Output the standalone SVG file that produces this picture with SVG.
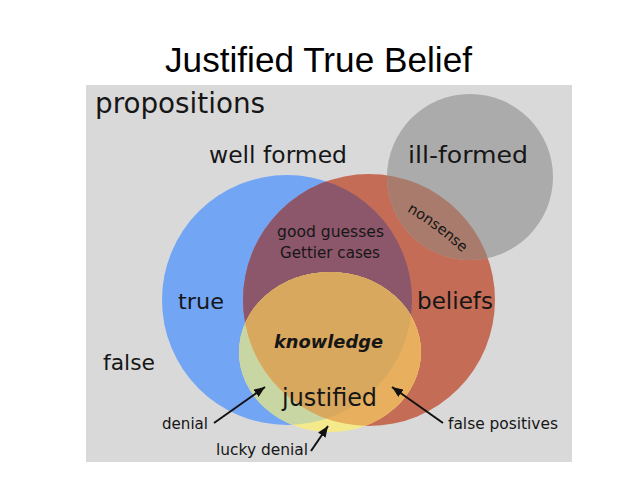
<svg xmlns="http://www.w3.org/2000/svg" width="638" height="479" viewBox="0 0 638 479">
<style>
.lbl{font-family:"DejaVu Sans","Liberation Sans",sans-serif;fill:#161616}
.title{font-family:"Liberation Sans","Noto Sans",sans-serif;font-size:35px;fill:#000}
.conn{stroke:#111;stroke-width:2;fill:none}
</style>
<defs>
<clipPath id="cBlue"><circle cx="287" cy="300" r="125"/></clipPath>
<clipPath id="cRed"><circle cx="369" cy="300" r="126"/></clipPath>
<marker id="arr" markerUnits="userSpaceOnUse" markerWidth="11" markerHeight="9" refX="11" refY="4.5" orient="auto">
<path d="M0,0 L11,4.5 L0,9 z" fill="#111"/>
</marker>
<path id="nsPath" d="M 399 207 Q 435 226 469 259"/>
</defs>
<rect width="638" height="479" fill="#ffffff"/>
<text class="title" x="318.5" y="72" text-anchor="middle" textLength="307" lengthAdjust="spacingAndGlyphs">Justified True Belief</text>

<g id="propositions">
<rect x="86" y="85" width="486" height="377" fill="#d9d9d9"/>
<text class="lbl" x="95" y="113" font-size="27.5" textLength="170" lengthAdjust="spacingAndGlyphs">propositions</text>
<text class="lbl" x="209" y="163" font-size="23" textLength="138" lengthAdjust="spacingAndGlyphs">well formed</text>
<text class="lbl" x="103" y="370" font-size="22" textLength="52" lengthAdjust="spacingAndGlyphs">false</text>
</g>

<g id="true">
<circle cx="287" cy="300" r="125" fill="#73a5f5"/>
<text class="lbl" x="178" y="309" font-size="22" textLength="46" lengthAdjust="spacingAndGlyphs">true</text>
</g>

<g id="beliefs">
<circle cx="369" cy="300" r="126" fill="#c46c55"/>
<circle cx="369" cy="300" r="126" fill="#8d576b" clip-path="url(#cBlue)"/>
<text class="lbl" x="417" y="309" font-size="23" textLength="76" lengthAdjust="spacingAndGlyphs">beliefs</text>
<text class="lbl" x="277" y="237" font-size="15.5" textLength="107" lengthAdjust="spacingAndGlyphs">good guesses</text>
<text class="lbl" x="280" y="258" font-size="15.5" textLength="100" lengthAdjust="spacingAndGlyphs">Gettier cases</text>
</g>

<g id="justified">
<ellipse cx="330" cy="352" rx="91" ry="80" fill="#f4ea8c"/>
<ellipse cx="330" cy="352" rx="91" ry="80" fill="#c8d6a4" clip-path="url(#cBlue)"/>
<ellipse cx="330" cy="352" rx="91" ry="80" fill="#e8b05e" clip-path="url(#cRed)"/>
<g clip-path="url(#cRed)"><ellipse cx="330" cy="352" rx="91" ry="80" fill="#d8a85e" clip-path="url(#cBlue)"/></g>
<text class="lbl" x="274" y="348" font-size="18" font-weight="bold" font-style="italic" textLength="109" lengthAdjust="spacingAndGlyphs">knowledge</text>
<text class="lbl" x="282" y="406" font-size="24" textLength="95" lengthAdjust="spacingAndGlyphs">justified</text>
</g>

<g id="ill-formed">
<circle cx="470" cy="177" r="83" fill="#ababab"/>
<circle cx="470" cy="177" r="83" fill="#a87b6c" clip-path="url(#cRed)"/>
<text class="lbl" x="408" y="163" font-size="23" textLength="120" lengthAdjust="spacingAndGlyphs">ill-formed</text>
<text class="lbl" font-size="14.5"><textPath href="#nsPath" startOffset="50%" text-anchor="middle">nonsense</textPath></text>
</g>

<g id="annotations">
<text class="lbl" x="162" y="429" font-size="15" textLength="46" lengthAdjust="spacingAndGlyphs">denial</text>
<text class="lbl" x="216" y="455" font-size="15" textLength="92" lengthAdjust="spacingAndGlyphs">lucky denial</text>
<text class="lbl" x="448" y="429" font-size="15" textLength="110" lengthAdjust="spacingAndGlyphs">false positives</text>
</g>

<g id="connectors">
<line class="conn" x1="214" y1="423" x2="265" y2="387" marker-end="url(#arr)"/>
<line class="conn" x1="311" y1="451" x2="328" y2="426" marker-end="url(#arr)"/>
<line class="conn" x1="443" y1="423" x2="392" y2="387" marker-end="url(#arr)"/>
</g>
</svg>
